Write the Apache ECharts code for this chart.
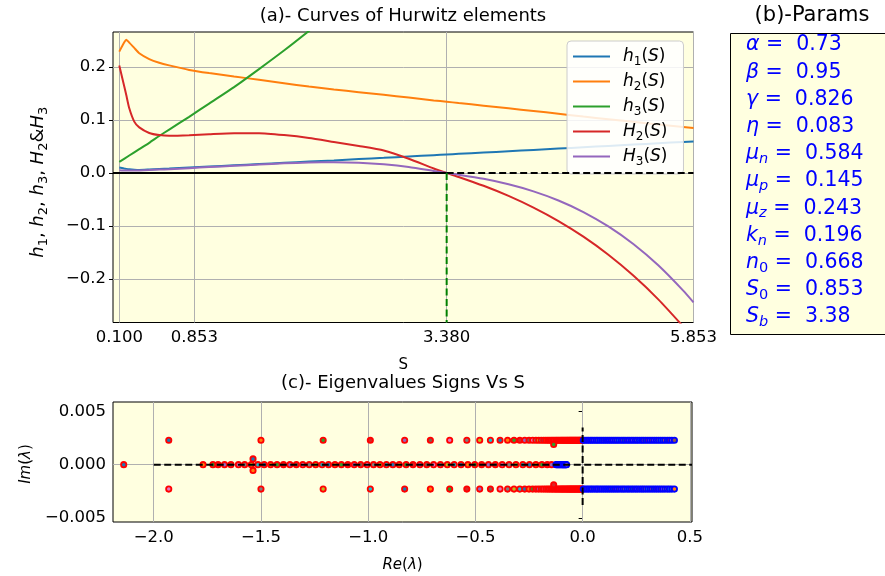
<!DOCTYPE html>
<html>
<head>
<meta charset="utf-8">
<script src="https://cdn.jsdelivr.net/npm/echarts@6/dist/echarts.min.js"></script>
<style>
  html, body { margin: 0; padding: 0; background: #ffffff; }
  #chart { width: 885px; height: 576px; }
</style>
</head>
<body>
<div id="chart"></div>
<script>
// ---------- (a) Hurwitz elements as functions of S ----------
const sGrid = [0.1, 0.15, 0.17, 0.2, 0.25, 0.3, 0.4, 0.5, 0.6, 0.8, 1.0, 1.25, 1.5, 1.75, 2.0, 2.25,
  2.5, 2.75, 3.0, 3.25, 3.38, 3.5, 3.75, 4.0, 4.25, 4.5, 4.75, 5.0, 5.25, 5.5, 5.75, 5.853];
const h1Vals = [0.0105, 0.0085, 0.0078, 0.0070, 0.0062, 0.0058, 0.0066, 0.0076, 0.0085, 0.0104, 0.0122,
  0.0145, 0.0169, 0.0192, 0.0215, 0.0238, 0.0262, 0.0286, 0.0311, 0.0336, 0.0349, 0.0361, 0.0386,
  0.0411, 0.0436, 0.0461, 0.0486, 0.0511, 0.0536, 0.0561, 0.0586, 0.0596];
const h2Vals = [0.229, 0.2465, 0.2515, 0.246, 0.236, 0.226, 0.215, 0.208, 0.203, 0.1945, 0.1885,
  0.182, 0.176, 0.1695, 0.163, 0.1575, 0.1525, 0.1475, 0.1425, 0.137, 0.1345, 0.132, 0.127, 0.122,
  0.117, 0.1118, 0.1065, 0.1015, 0.0965, 0.0915, 0.087, 0.085];
const bigH2Vals = [0.203, 0.163, 0.147, 0.122, 0.097, 0.086, 0.0755, 0.0715, 0.0702, 0.0712, 0.0732,
  0.0752, 0.0752, 0.0715, 0.066, 0.0585, 0.051, 0.0425, 0.027, 0.0085, 0, -0.0074, -0.0241, -0.0432,
  -0.0653, -0.0907, -0.1201, -0.1542, -0.1934, -0.2383, -0.2895, -0.312];
const bigH3Vals = [0.005, 0.0047, 0.0046, 0.0045, 0.0046, 0.0048, 0.0055, 0.0064, 0.0073, 0.0092,
  0.0112, 0.0137, 0.016, 0.0183, 0.0198, 0.0205, 0.0195, 0.0165, 0.0115, 0.004, 0, -0.0032, -0.011,
  -0.0213, -0.0346, -0.0518, -0.0736, -0.1008, -0.134, -0.1742, -0.2219, -0.244];
const sH3 = [0.1, 0.2, 0.3, 0.4, 0.5, 0.6, 0.8, 1.0, 1.25, 1.5, 1.75, 2.0, 2.25];
const h3Vals = [0.021, 0.033, 0.045, 0.057, 0.0698, 0.082, 0.106, 0.131, 0.162, 0.196, 0.231, 0.268, 0.306];

const sTicks = [0.1, 0.853, 3.38, 5.853];
const hTicks = [-0.2, -0.1, 0.0, 0.1, 0.2];
const sRange = [0.037, 5.853];
const hRange = [-0.282, 0.266];

// ---------- (b) parameters ----------
const paramSymbols = ['{g|α}', '{g|β}', '{g|γ}', '{g|η}', '{g|μ}{s|n}', '{g|μ}{s|p}', '{g|μ}{s|z}',
  '{g|k}{s|n}', '{g|n}{u|0}', '{g|S}{u|0}', '{g|S}{s|b}'];
const paramValues = [0.73, 0.95, 0.826, 0.083, 0.584, 0.145, 0.243, 0.196, 0.668, 0.853, 3.38];
const Sb = 3.38;

// ---------- (c) eigenvalues ----------
const pairIm = 0.0023;
const redPairRe = [-1.93, -1.50, -1.21, -0.99, -0.83, -0.71, -0.62, -0.54, -0.48, -0.43, -0.385, -0.35,
  -0.32, -0.293, -0.27, -0.25, -0.233, -0.218, -0.205, -0.193, -0.182, -0.172, -0.163, -0.155, -0.147,
  -0.14, -0.133, -0.126, -0.12, -0.114, -0.108, -0.102, -0.097, -0.092, -0.087, -0.082, -0.077, -0.072,
  -0.068, -0.063, -0.059, -0.055, -0.051, -0.047, -0.043, -0.039, -0.035, -0.031, -0.027, -0.023,
  -0.019, -0.015, -0.012, -0.008, -0.004, -0.001];
const bluePairRe = [0.003, 0.011, 0.02, 0.028, 0.037, 0.045, 0.054, 0.063, 0.071, 0.08, 0.089, 0.098,
  0.107, 0.116, 0.125, 0.134, 0.143, 0.152, 0.161, 0.17, 0.18, 0.189, 0.198, 0.208, 0.217, 0.227,
  0.236, 0.246, 0.255, 0.265, 0.275, 0.284, 0.294, 0.304, 0.314, 0.324, 0.334, 0.344, 0.354, 0.364,
  0.374, 0.384, 0.395, 0.405, 0.416, 0.428];
const redRealRe = [-2.14, -1.77, -1.724, -1.70, -1.67, -1.64, -1.605, -1.576, -1.545, -1.514, -1.485,
  -1.455, -1.425, -1.395, -1.365, -1.335, -1.305, -1.275, -1.245, -1.215, -1.185, -1.155, -1.125,
  -1.095, -1.065, -1.035, -1.005, -0.975, -0.945, -0.915, -0.885, -0.855, -0.823, -0.791, -0.759,
  -0.727, -0.695, -0.663, -0.631, -0.599, -0.567, -0.535, -0.503, -0.471, -0.439, -0.407, -0.375,
  -0.343, -0.311, -0.279, -0.248, -0.218, -0.19, -0.165, -0.145];
const blueRealRe = [-0.124, -0.12, -0.116, -0.112, -0.108, -0.104, -0.1, -0.096, -0.093, -0.09,
  -0.087, -0.084, -0.081, -0.078, -0.075];
const nearPairs = [[-1.537, 0.00054], [-1.537, -0.00054], [-0.135, 0.0019], [-0.135, -0.0019]];

const reTicks = [-2.0, -1.5, -1.0, -0.5, 0.0, 0.5];
const imTicks = [-0.005, 0.0, 0.005];
const reRange = [-2.19, 0.51];
const imRange = [-0.0054, 0.0059];
const imMarkerSpan = [-0.0038, 0.0035];

// ---------- styling ----------
const FONT = 'DejaVu Sans';
const PANEL_BG = '#ffffe0';
const GRID_GRAY = '#b0b0b0';
const tab10 = ['#1f77b4', '#ff7f0e', '#2ca02c', '#d62728', '#9467bd', '#8c564b', '#e377c2', '#7f7f7f', '#bcbd22', '#17becf'];
const TICK_SIZE = 16.5;

const signed = (v, d) => (v < -1e-12 ? '\u2212' : '') + Math.abs(v).toFixed(d);
const zip = (xs, ys) => xs.map((x, i) => [x, ys[i]]);
const row = (res, im) => res.map(r => [r, im]);

const mathRich = (size, color) => ({
  i: { fontFamily: FONT, fontSize: size, fontStyle: 'italic', color: color, lineHeight: size + 6 },
  i0: { fontFamily: FONT, fontSize: size, fontStyle: 'italic', color: color, lineHeight: size + 6, padding: [0, 0, 0, 8] },
  r: { fontFamily: FONT, fontSize: size, color: color, lineHeight: size + 6 },
  s: { fontFamily: FONT, fontSize: Math.round(size * 0.7), color: color, verticalAlign: 'bottom', lineHeight: Math.round(size * 0.7) + 2 }
});

const legendNames = ['h1(S)', 'h2(S)', 'h3(S)', 'H2(S)', 'H3(S)'];
const legendText = {
  'h1(S)': '{i0|h}{s|1}{r|(}{i|S}{r|)}',
  'h2(S)': '{i0|h}{s|2}{r|(}{i|S}{r|)}',
  'h3(S)': '{i0|h}{s|3}{r|(}{i|S}{r|)}',
  'H2(S)': '{i0|H}{s|2}{r|(}{i|S}{r|)}',
  'H3(S)': '{i0|H}{s|3}{r|(}{i|S}{r|)}'
};

function gridLineSeries(xi, yi, xs, ys) {
  return {
    type: 'line', xAxisIndex: xi, yAxisIndex: yi, data: [], z: 1, silent: true,
    markLine: {
      silent: true, symbol: 'none', animation: false, z: 1,
      label: { show: false },
      lineStyle: { color: GRID_GRAY, width: 1, type: 'solid' },
      emphasis: { disabled: true },
      data: [...xs.map(v => ({ xAxis: v })), ...ys.map(v => ({ yAxis: v }))]
    }
  };
}

function curve(name, xs, ys, color) {
  return {
    name: name, type: 'line', xAxisIndex: 0, yAxisIndex: 0,
    data: zip(xs, ys), symbol: 'none', smooth: 0.2, clip: true, z: 3,
    lineStyle: { color: color, width: 2 }, itemStyle: { color: color }
  };
}

function refLine(xi, yi, pts, color, dashed, z) {
  return {
    type: 'line', xAxisIndex: xi, yAxisIndex: yi, data: pts, symbol: 'none', z: z, silent: true,
    lineStyle: { color: color, width: 2, type: dashed ? [7, 3.5] : 'solid' }
  };
}

function eig(pts, edge, z) {
  return {
    type: 'scatter', xAxisIndex: 1, yAxisIndex: 1, data: pts, symbol: 'circle', symbolSize: 5.3, z: z,
    silent: true,
    itemStyle: { color: p => tab10[p.dataIndex % 10], borderColor: edge, borderWidth: 1.8, opacity: 1 }
  };
}

const axisFont = { color: '#000', fontFamily: FONT, fontSize: TICK_SIZE };

const option = {
  animation: false,
  backgroundColor: '#ffffff',
  textStyle: { fontFamily: FONT },
  grid: [
    { left: 113, top: 32, width: 580.5, height: 290.5, show: true, backgroundColor: PANEL_BG, borderColor: '#000', borderWidth: 1 },
    { left: 113, top: 402, width: 579, height: 120, show: true, backgroundColor: PANEL_BG, borderColor: '#000', borderWidth: 1 }
  ],
  xAxis: [
    {
      gridIndex: 0, type: 'value', min: sRange[0], max: sRange[1],
      axisLine: { show: false }, splitLine: { show: false },
      axisTick: { show: true, length: 4, customValues: sTicks, lineStyle: { color: '#000', width: 1 } },
      axisLabel: Object.assign({ customValues: sTicks, margin: 7, formatter: v => v.toFixed(3) }, axisFont),
      name: 'S', nameLocation: 'middle', nameGap: 35,
      nameTextStyle: { color: '#000', fontFamily: FONT, fontSize: 15 }
    },
    {
      gridIndex: 1, type: 'value', min: reRange[0], max: reRange[1],
      axisLine: { show: false }, splitLine: { show: false },
      axisTick: { show: true, length: 4, customValues: reTicks, lineStyle: { color: '#000', width: 1 } },
      axisLabel: Object.assign({ customValues: reTicks, margin: 7, formatter: v => signed(v, 1) }, axisFont),
      name: '{i|Re}{r|(}{i|λ}{r|)}', nameLocation: 'middle', nameGap: 33,
      nameTextStyle: { color: '#000', fontFamily: FONT, fontSize: 15, rich: mathRich(15, '#000') }
    }
  ],
  yAxis: [
    {
      gridIndex: 0, type: 'value', min: hRange[0], max: hRange[1],
      axisLine: { show: false }, splitLine: { show: false },
      axisTick: { show: true, length: 4, customValues: hTicks, lineStyle: { color: '#000', width: 1 } },
      axisLabel: Object.assign({ customValues: hTicks, margin: 7, formatter: v => signed(v, 1) }, axisFont),
      name: '{i|h}{s|1}{r|, }{i|h}{s|2}{r|, }{i|h}{s|3}{r|, }{i|H}{s|2}{r|&}{i|H}{s|3}',
      nameLocation: 'middle', nameGap: 63,
      nameTextStyle: { color: '#000', fontFamily: FONT, fontSize: 18, padding: [0, 10, 0, 0], rich: mathRich(18, '#000') }
    },
    {
      gridIndex: 1, type: 'value', min: imRange[0], max: imRange[1],
      axisLine: { show: false }, splitLine: { show: false },
      axisTick: { show: true, length: 4, customValues: imTicks, lineStyle: { color: '#000', width: 1 } },
      axisLabel: Object.assign({ customValues: imTicks, margin: 7, formatter: v => signed(v, 3) }, axisFont),
      name: '{i|Im}{r|(}{i|λ}{r|)}', nameLocation: 'middle', nameGap: 68,
      nameTextStyle: { color: '#000', fontFamily: FONT, fontSize: 15, padding: [0, 4, 0, 0], rich: mathRich(15, '#000') }
    }
  ],
  legend: {
    data: legendNames, orient: 'vertical', left: 567, top: 41, icon: 'rect',
    backgroundColor: 'rgba(255,255,255,0.85)', borderColor: '#cccccc', borderWidth: 1, borderRadius: 4,
    padding: [7, 16, 6, 6], itemWidth: 37, itemHeight: 2.2, itemGap: 5,
    formatter: n => legendText[n],
    textStyle: { color: '#000', fontFamily: FONT, fontSize: 17, rich: mathRich(17, '#000') },
    selectedMode: false
  },
  series: [
    gridLineSeries(0, 0, sTicks, hTicks),
    curve('h1(S)', sGrid, h1Vals, tab10[0]),
    curve('h2(S)', sGrid, h2Vals, tab10[1]),
    curve('h3(S)', sH3, h3Vals, tab10[2]),
    curve('H2(S)', sGrid, bigH2Vals, tab10[3]),
    curve('H3(S)', sGrid, bigH3Vals, tab10[4]),
    refLine(0, 0, [[sRange[0], 0], [Sb, 0]], '#000', false, 4),
    refLine(0, 0, [[Sb, 0], [sRange[1], 0]], '#000', true, 4),
    refLine(0, 0, [[Sb, 0], [Sb, hRange[0]]], '#008000', true, 4),

    gridLineSeries(1, 1, reTicks, imTicks),
    eig(row(redRealRe, 0), '#ff0000', 2),
    eig([...row(redPairRe, pairIm), ...row(redPairRe, -pairIm)], '#ff0000', 2),
    eig(nearPairs, '#ff0000', 2),
    eig([...row(bluePairRe, pairIm), ...row(bluePairRe, -pairIm)], '#0000ff', 3),
    eig(row(blueRealRe, 0), '#0000ff', 3),
    refLine(1, 1, [[reTicks[0], 0], [reRange[1], 0]], '#000', true, 5),
    refLine(1, 1, [[0, imMarkerSpan[0]], [0, imMarkerSpan[1]]], '#000', true, 5)
  ],
  graphic: [
    { type: 'text', x: 403, y: 16, silent: true,
      style: { text: '(a)- Curves of Hurwitz elements', font: '18px "DejaVu Sans"', fill: '#000', align: 'center', verticalAlign: 'middle' } },
    { type: 'text', x: 403, y: 383, silent: true,
      style: { text: '(c)- Eigenvalues Signs Vs S', font: '18px "DejaVu Sans"', fill: '#000', align: 'center', verticalAlign: 'middle' } },
    { type: 'text', x: 812, y: 16, silent: true,
      style: { text: '(b)-Params', font: '21px "DejaVu Sans"', fill: '#000', align: 'center', verticalAlign: 'middle' } },
    { type: 'rect', silent: true, shape: { x: 730.5, y: 33.5, width: 170, height: 301 },
      style: { fill: PANEL_BG, stroke: '#000', lineWidth: 1 } },
    ...paramSymbols.map((sym, i) => ({
      type: 'text', x: 746, y: 45 + i * 27.2, silent: true,
      style: {
        text: sym + '{t| =  ' + paramValues[i] + '}',
        align: 'left', verticalAlign: 'middle',
        rich: {
          g: { fontFamily: FONT, fontSize: 20.5, fontStyle: 'italic', fill: '#0000ff', lineHeight: 26 },
          s: { fontFamily: FONT, fontSize: 14.5, fontStyle: 'italic', fill: '#0000ff', verticalAlign: 'bottom', lineHeight: 15 },
          u: { fontFamily: FONT, fontSize: 14.5, fill: '#0000ff', verticalAlign: 'bottom', lineHeight: 15 },
          t: { fontFamily: FONT, fontSize: 20.5, fill: '#0000ff', lineHeight: 26 }
        }
      }
    }))
  ]
};

const chart = echarts.init(document.getElementById('chart'), null, { renderer: 'canvas' });
chart.setOption(option);
</script>
</body>
</html>
